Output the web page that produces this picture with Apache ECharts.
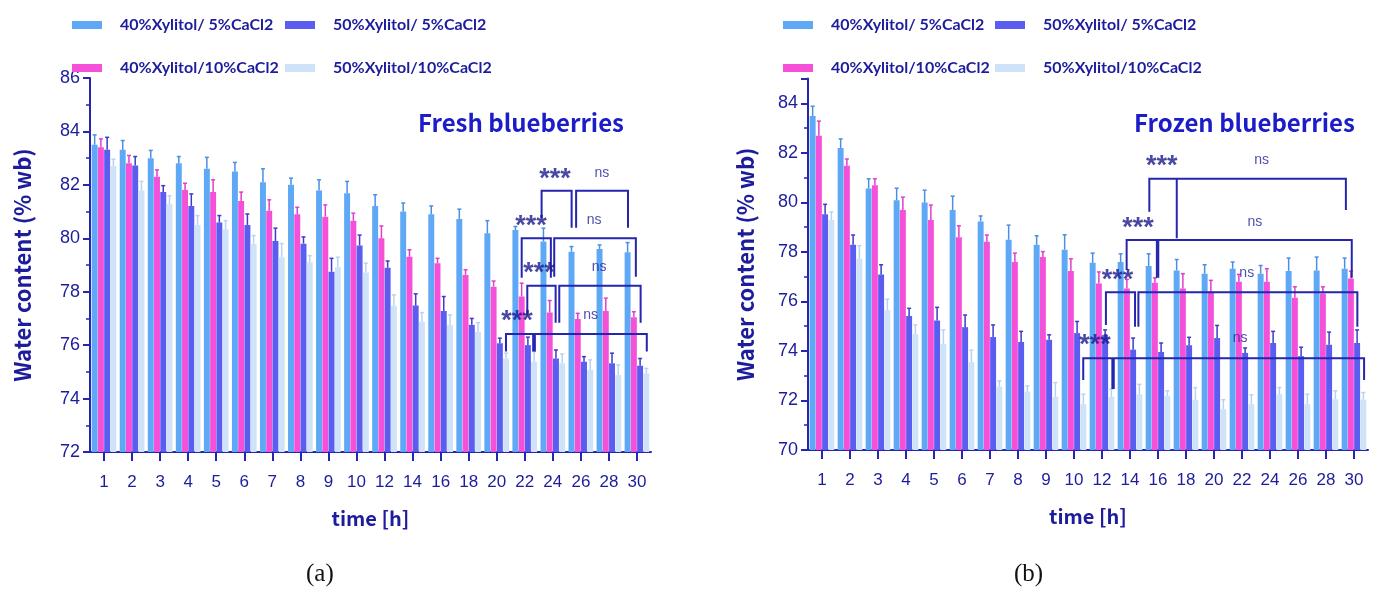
<!DOCTYPE html>
<html>
<head>
<meta charset="utf-8">
<script src="https://cdn.jsdelivr.net/npm/echarts@6/dist/echarts.min.js"></script>
<style>
  html, body { margin: 0; padding: 0; background: #fff; }
  #main { width: 1381px; height: 599px; }
</style>
</head>
<body>
<div id="main"></div>
<script>
var chartDom = document.getElementById('main');
var myChart = echarts.init(chartDom);
var option;

// time points [h]
var categories = ['1', '2', '3', '4', '5', '6', '7', '8', '9', '10', '12', '14', '16', '18', '20', '22', '24', '26', '28', '30'];
var seriesNames = ['40%Xylitol/ 5%CaCl2', '40%Xylitol/10%CaCl2', '50%Xylitol/ 5%CaCl2', '50%Xylitol/10%CaCl2'];

// (a) fresh blueberries, water content (% wb)
var fresh40_5 = [83.50, 83.31, 83.00, 82.81, 82.60, 82.50, 82.10, 82.00, 81.79, 81.69, 81.21, 81.00, 80.90, 80.72, 80.19, 80.31, 79.88, 79.50, 79.60, 79.48];
var fresh40_10 = [83.41, 82.81, 82.30, 81.81, 81.73, 81.40, 81.03, 80.90, 80.81, 80.66, 80.00, 79.31, 79.07, 78.63, 78.19, 77.82, 77.22, 76.98, 77.28, 77.04];
var fresh50_5 = [83.31, 82.72, 81.73, 81.21, 80.59, 80.50, 79.90, 79.80, 78.75, 79.73, 78.90, 77.48, 77.28, 76.76, 76.07, 76.00, 75.50, 75.38, 75.32, 75.23];
var fresh50_10 = [82.71, 81.79, 81.29, 80.50, 80.34, 79.80, 79.29, 79.10, 78.92, 78.72, 77.47, 76.88, 76.76, 76.50, 75.50, 75.38, 75.32, 75.07, 74.88, 74.94];
// error (SD) of each
var freshErr40_5 = [0.37, 0.35, 0.29, 0.25, 0.43, 0.34, 0.50, 0.25, 0.40, 0.44, 0.42, 0.32, 0.31, 0.37, 0.47, 0.13, 0.50, 0.19, 0.15, 0.36];
var freshErr40_10 = [0.31, 0.29, 0.26, 0.25, 0.46, 0.33, 0.41, 0.26, 0.44, 0.28, 0.46, 0.26, 0.18, 0.19, 0.21, 0.50, 0.45, 0.21, 0.48, 0.21];
var freshErr50_5 = [0.47, 0.34, 0.24, 0.45, 0.26, 0.41, 0.48, 0.25, 0.50, 0.39, 0.25, 0.44, 0.54, 0.24, 0.19, 0.30, 0.32, 0.19, 0.38, 0.27];
var freshErr50_10 = [0.25, 0.34, 0.30, 0.35, 0.32, 0.30, 0.51, 0.25, 0.37, 0.35, 0.41, 0.34, 0.37, 0.34, 0.20, 0.38, 0.35, 0.38, 0.38, 0.19];

// (b) frozen blueberries
var frozen40_5 = [83.49, 82.19, 80.56, 80.08, 79.99, 79.69, 79.23, 78.49, 78.29, 78.09, 77.56, 77.59, 77.43, 77.25, 77.12, 77.32, 77.12, 77.23, 77.25, 77.32];
var frozen40_10 = [82.69, 81.48, 80.69, 79.69, 79.29, 78.59, 78.41, 77.59, 77.79, 77.23, 76.72, 76.52, 76.75, 76.52, 76.39, 76.79, 76.79, 76.15, 76.32, 76.92];
var frozen50_5 = [79.52, 78.29, 77.09, 75.41, 75.23, 74.96, 74.56, 74.36, 74.45, 74.72, 74.65, 74.05, 73.96, 74.23, 74.52, 73.92, 74.32, 73.79, 74.25, 74.32];
var frozen50_10 = [79.29, 77.72, 75.65, 74.68, 74.29, 73.55, 72.56, 72.36, 72.15, 71.85, 72.15, 72.25, 72.19, 72.03, 71.65, 71.85, 72.25, 71.85, 72.05, 72.03];
var frozenErr40_5 = [0.39, 0.37, 0.39, 0.49, 0.50, 0.56, 0.22, 0.59, 0.36, 0.60, 0.39, 0.33, 0.49, 0.44, 0.36, 0.27, 0.33, 0.52, 0.54, 0.43];
var frozenErr40_10 = [0.59, 0.27, 0.26, 0.52, 0.60, 0.46, 0.27, 0.36, 0.22, 0.49, 0.47, 0.37, 0.20, 0.60, 0.46, 0.30, 0.53, 0.44, 0.27, 0.30];
var frozenErr50_5 = [0.40, 0.39, 0.39, 0.31, 0.53, 0.49, 0.49, 0.43, 0.20, 0.47, 0.20, 0.47, 0.36, 0.32, 0.51, 0.20, 0.47, 0.36, 0.51, 0.53];
var frozenErr50_10 = [0.32, 0.53, 0.44, 0.37, 0.56, 0.48, 0.23, 0.23, 0.57, 0.40, 0.30, 0.40, 0.20, 0.49, 0.38, 0.38, 0.27, 0.40, 0.34, 0.29];

// significance brackets: polylines in [category position, value]
var freshBrackets = [
    [[15.60, 80.76], [15.60, 81.78], [16.67, 81.78], [16.67, 80.39]],
    [[16.83, 80.39], [16.83, 81.78], [18.68, 81.78], [18.68, 80.39]],
    [[14.89, 78.52], [14.89, 80.00], [15.93, 80.00], [15.93, 78.52]],
    [[16.05, 78.56], [16.05, 80.00], [18.96, 80.00], [18.96, 78.56]],
    [[15.09, 77.13], [15.09, 78.22], [16.10, 78.22], [16.10, 76.84]],
    [[16.23, 76.84], [16.23, 78.22], [19.13, 78.22], [19.13, 76.84]],
    [[14.33, 75.76], [14.33, 76.42], [19.35, 76.42], [19.35, 75.76]],
    [[15.30, 76.42], [15.30, 75.76]],
    [[15.36, 76.42], [15.36, 75.76]]
];
var freshMarks = [
    ['***', 16.08, 82.45], ['ns', 17.75, 82.45],
    ['***', 15.22, 80.69], ['ns', 17.47, 80.69],
    ['***', 15.51, 78.93], ['ns', 17.65, 78.93],
    ['***', 14.72, 77.13], ['ns', 17.35, 77.13]
];
var frozenBrackets = [
    [[11.69, 79.62], [11.69, 80.95], [18.71, 80.95], [18.71, 79.69]],
    [[12.67, 80.95], [12.67, 78.55]],
    [[10.88, 77.27], [10.88, 78.48], [18.92, 78.48], [18.92, 76.95]],
    [[11.96, 78.48], [11.96, 76.95]],
    [[12.01, 78.48], [12.01, 76.95]],
    [[10.14, 75.05], [10.14, 76.37], [11.18, 76.37], [11.18, 74.98]],
    [[11.30, 74.98], [11.30, 76.37], [19.12, 76.37], [19.12, 74.98]],
    [[9.33, 72.83], [9.33, 73.70], [19.36, 73.70], [19.36, 72.83]],
    [[10.37, 73.70], [10.37, 72.46]],
    [[10.42, 73.70], [10.42, 72.46]]
];
var frozenMarks = [
    ['***', 12.13, 81.71], ['ns', 15.70, 81.71],
    ['***', 11.29, 79.22], ['ns', 15.46, 79.22],
    ['***', 10.55, 77.14], ['ns', 15.17, 77.14],
    ['***', 9.75, 74.51], ['ns', 14.93, 74.51]
];

var barColors = ['#5ea8f5', '#f551d8', '#5b5cf0', '#cfe3f8'];
var errColors = ['#4a8ee6', '#e23fc6', '#3c3cc8', '#b9d3ef'];
var navy = '#1c1c9c';
var axisBlue = '#2525b0';
var BAR_GAP = 0.05;
var CAT_GAP = 0.12;

function errorBars(name, vals, errs, k, xi, yi) {
    return {
        name: name + ' err',
        type: 'custom',
        xAxisIndex: xi,
        yAxisIndex: yi,
        z: 3,
        silent: true,
        data: vals.map(function (v, i) { return [i, v, errs[i]]; }),
        renderItem: function (params, api) {
            var i = api.value(0), v = api.value(1), e = api.value(2);
            var band = api.size([1, 0])[0];
            var bw = band * (1 - CAT_GAP) / (4 + 3 * BAR_GAP);
            var off = (k - 1.5) * bw * (1 + BAR_GAP);
            var top = api.coord([i, v + e]);
            var base = api.coord([i, v]);
            var x = top[0] + off;
            var st = { stroke: errColors[k], lineWidth: 1.5 };
            return {
                type: 'group',
                children: [
                    { type: 'line', shape: { x1: x, y1: base[1], x2: x, y2: top[1] }, style: st },
                    { type: 'line', shape: { x1: x - 2, y1: top[1], x2: x + 2, y2: top[1] }, style: st }
                ]
            };
        }
    };
}

function bracketSeries(lines, xi, yi) {
    return {
        type: 'lines',
        coordinateSystem: 'cartesian2d',
        xAxisIndex: xi,
        yAxisIndex: yi,
        polyline: true,
        silent: true,
        z: 5,
        lineStyle: { color: axisBlue, width: 2, opacity: 1 },
        data: lines.map(function (c) { return { coords: c }; })
    };
}

function markSeries(marks, xi, yi) {
    return {
        type: 'scatter',
        xAxisIndex: xi,
        yAxisIndex: yi,
        symbolSize: 1,
        itemStyle: { color: 'transparent' },
        silent: true,
        z: 6,
        data: marks.map(function (m) {
            var star = m[0] === '***';
            return {
                value: [m[1], m[2], m[0]],
                label: star
                    ? { fontSize: 27, fontWeight: 'bold', color: '#1a1a8c', offset: [0, 7] }
                    : { fontSize: 14, color: '#23239a' }
            };
        }),
        label: {
            show: true,
            position: 'inside',
            formatter: function (p) { return p.value[2]; },
            color: navy,
            fontFamily: 'Liberation Sans'
        }
    };
}

function catAxis(gi) {
    return {
        type: 'category',
        gridIndex: gi,
        data: categories,
        boundaryGap: true,
        name: 'time [h]',
        nameLocation: 'middle',
        nameGap: 56,
        nameTextStyle: { color: navy, fontSize: 20, fontWeight: 'bold', fontFamily: 'Noto Sans CJK KR' },
        axisLine: { show: true, onZero: false, lineStyle: { color: axisBlue, width: 2 } },
        axisTick: { show: true, alignWithLabel: true, length: 9, lineStyle: { color: axisBlue, width: 2 } },
        axisLabel: { color: navy, fontSize: 17, margin: 22, interval: 0, fontFamily: 'Liberation Sans' },
        splitLine: { show: false }
    };
}

function hiddenAxis(gi) {
    return { type: 'value', gridIndex: gi, min: -0.5, max: 19.5, show: false, splitLine: { show: false } };
}

function valAxis(gi, min, max, gap) {
    return {
        type: 'value',
        gridIndex: gi,
        min: min,
        max: max,
        interval: 2,
        name: 'Water content (% wb)',
        nameLocation: 'middle',
        nameGap: gap,
        nameTextStyle: { color: navy, fontSize: 22, fontWeight: 'bold', fontFamily: 'Noto Sans CJK KR' },
        axisLine: { show: true, onZero: false, lineStyle: { color: axisBlue, width: 2 } },
        axisTick: { show: true, length: 7, lineStyle: { color: axisBlue, width: 2 } },
        minorTick: { show: true, splitNumber: 2, length: 4, lineStyle: { color: axisBlue, width: 1.5 } },
        axisLabel: { color: navy, fontSize: 18, margin: 10, showMaxLabel: max === 86, fontFamily: 'Liberation Sans' },
        splitLine: { show: false },
        minorSplitLine: { show: false }
    };
}

function legendItem(name, left, top) {
    return {
        data: [name],
        left: left,
        top: top,
        padding: 0,
        icon: 'rect',
        itemWidth: 30,
        itemHeight: 8,
        selectedMode: false,
        textStyle: { color: navy, fontSize: 16, fontWeight: 'bold', fontFamily: 'Lato', padding: [0, 0, 0, 13], lineHeight: 20 }
    };
}

var freshSets = [fresh40_5, fresh40_10, fresh50_5, fresh50_10];
var freshErrs = [freshErr40_5, freshErr40_10, freshErr50_5, freshErr50_10];
var frozenSets = [frozen40_5, frozen40_10, frozen50_5, frozen50_10];
var frozenErrs = [frozenErr40_5, frozenErr40_10, frozenErr50_5, frozenErr50_10];

var series = [];
[0, 1].forEach(function (g) {
    var sets = g === 0 ? freshSets : frozenSets;
    var errs = g === 0 ? freshErrs : frozenErrs;
    var xi = g * 2;
    sets.forEach(function (vals, k) {
        series.push({
            name: seriesNames[k],
            type: 'bar',
            xAxisIndex: xi,
            yAxisIndex: g,
            barGap: (BAR_GAP * 100) + '%',
            barCategoryGap: (CAT_GAP * 100) + '%',
            itemStyle: { color: barColors[k] },
            data: vals
        });
    });
    sets.forEach(function (vals, k) {
        series.push(errorBars(seriesNames[k], vals, errs[k], k, xi, g));
    });
    series.push(bracketSeries(g === 0 ? freshBrackets : frozenBrackets, xi + 1, g));
    series.push(markSeries(g === 0 ? freshMarks : frozenMarks, xi + 1, g));
});

option = {
    backgroundColor: '#fff',
    animation: false,
    title: [
        { text: 'Fresh blueberries', left: 413, top: 106, textStyle: { color: '#1c1cc8', fontSize: 24, fontWeight: 'bold', fontFamily: 'Noto Sans CJK KR' } },
        { text: 'Frozen blueberries', left: 1129, top: 106, textStyle: { color: '#1c1cc8', fontSize: 24, fontWeight: 'bold', fontFamily: 'Noto Sans CJK KR' } }
    ],
    legend: [
        legendItem(seriesNames[0], 72, 15),
        legendItem(seriesNames[2], 285, 15),
        legendItem(seriesNames[1], 72, 58),
        legendItem(seriesNames[3], 285, 58),
        legendItem(seriesNames[0], 783, 15),
        legendItem(seriesNames[2], 995, 15),
        legendItem(seriesNames[1], 783, 58),
        legendItem(seriesNames[3], 995, 58)
    ],
    grid: [
        { left: 90, top: 78, width: 561, height: 374 },
        { left: 808, top: 78.5, width: 560, height: 371.5 }
    ],
    xAxis: [catAxis(0), hiddenAxis(0), catAxis(1), hiddenAxis(1)],
    yAxis: [valAxis(0, 72, 86, 56), valAxis(1, 70, 85, 51)],
    graphic: [
        { type: 'text', left: 306, top: 562, style: { text: '(a)', fontSize: 25, fontFamily: 'Liberation Serif', fill: '#111' } },
        { type: 'text', left: 1014, top: 562, style: { text: '(b)', fontSize: 25, fontFamily: 'Liberation Serif', fill: '#111' } }
    ],
    series: series
};

option && myChart.setOption(option);
</script>
</body>
</html>
